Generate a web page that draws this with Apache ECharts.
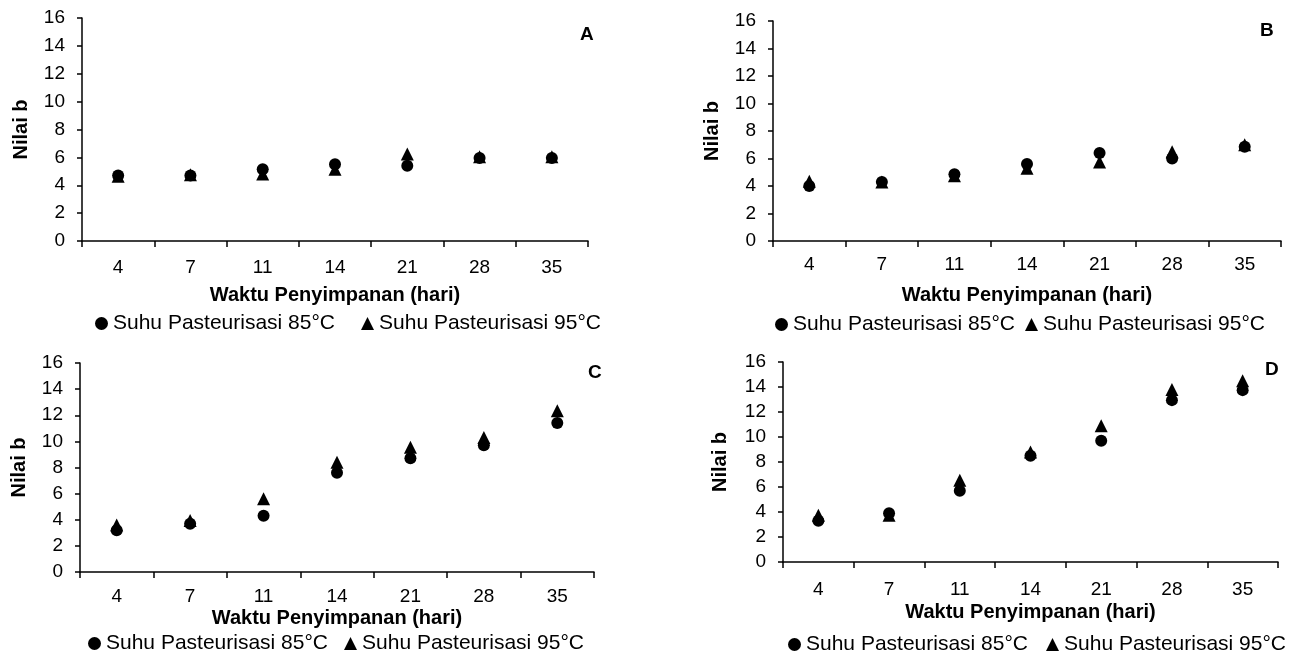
<!DOCTYPE html>
<html>
<head>
<meta charset="utf-8">
<script src="https://cdn.jsdelivr.net/npm/echarts@6/dist/echarts.min.js"></script>
<style>
  html, body { margin: 0; padding: 0; background: #fff; }
  #main { width: 1300px; height: 655px; }
</style>
</head>
<body>
<div id="main"></div>
<script>
// hari penyimpanan
const days = ["4", "7", "11", "14", "21", "28", "35"];
const yTicks = [0, 2, 4, 6, 8, 10, 12, 14, 16];
const seriesNames = ["Suhu Pasteurisasi 85°C", "Suhu Pasteurisasi 95°C"];
const panelLabels = ["A", "B", "C", "D"];

// nilai b per panel
const a85 = [4.7, 4.7, 5.15, 5.5, 5.4, 5.95, 5.95];
const a95 = [4.65, 4.75, 4.8, 5.15, 6.25, 6.05, 6.05];
const b85 = [4.0, 4.3, 4.85, 5.6, 6.4, 6.0, 6.85];
const b95 = [4.35, 4.3, 4.75, 5.3, 5.75, 6.5, 7.0];
const c85 = [3.2, 3.7, 4.3, 7.6, 8.7, 9.7, 11.4];
const c95 = [3.6, 3.95, 5.6, 8.4, 9.55, 10.3, 12.35];
const d85 = [3.3, 3.9, 5.7, 8.5, 9.7, 12.95, 13.75];
const d95 = [3.75, 3.75, 6.55, 8.8, 10.9, 13.8, 14.5];

const panelData = [[a85, a95], [b85, b95], [c85, c95], [d85, d95]];

const FONT = "Liberation Sans, Arial, sans-serif";

// posisi grid tiap panel (px)
const grids = [
  { left: 82, top: 18, width: 506, height: 223 },
  { left: 773, top: 21, width: 508, height: 220 },
  { left: 80, top: 363, width: 514, height: 209 },
  { left: 783, top: 362, width: 495, height: 200 }
];
const labelPos = [
  { left: 580, top: 25 },
  { left: 1260, top: 21 },
  { left: 588, top: 363 },
  { left: 1265, top: 360 }
];
const legendPos = [
  { left: 95, top: 313, gap: 26 },
  { left: 775, top: 314, gap: 10 },
  { left: 88, top: 633, gap: 16 },
  { left: 788, top: 634, gap: 18 }
];
const xNameGap = [44, 44, 36, 40];
const yNameGap = [51, 51, 51, 53];
const xLabelMargin = [17, 14, 15, 18];

const option = {
  animation: false,
  backgroundColor: "#fff",
  textStyle: { fontFamily: FONT, color: "#000" },
  title: panelLabels.map(function(t, i) {
    return {
      text: t,
      left: labelPos[i].left,
      top: labelPos[i].top,
      padding: 0,
      textStyle: { fontFamily: FONT, fontSize: 19, fontWeight: "bold", color: "#000" }
    };
  }),
  legend: legendPos.map(function(p) {
    return {
      left: p.left,
      top: p.top,
      padding: 0,
      data: seriesNames,
      itemWidth: 13,
      itemHeight: 13,
      itemGap: p.gap,
      selectedMode: false,
      textStyle: { fontFamily: FONT, fontSize: 21, color: "#000" }
    };
  }),
  grid: grids,
  xAxis: grids.map(function(g, i) {
    return {
      type: "category",
      gridIndex: i,
      data: days,
      boundaryGap: true,
      name: "Waktu Penyimpanan (hari)",
      nameLocation: "middle",
      nameGap: xNameGap[i],
      nameTextStyle: { fontFamily: FONT, fontSize: 20, fontWeight: "bold", color: "#000" },
      axisLine: { lineStyle: { color: "#000", width: 1.5 } },
      axisTick: { show: true, length: 6, lineStyle: { color: "#000", width: 1.5 } },
      axisLabel: { color: "#000", fontSize: 19, fontFamily: FONT, margin: xLabelMargin[i] },
      splitLine: { show: false }
    };
  }),
  yAxis: grids.map(function(g, i) {
    return {
      type: "value",
      gridIndex: i,
      min: yTicks[0],
      max: yTicks[yTicks.length - 1],
      interval: 2,
      name: "Nilai b",
      nameLocation: "middle",
      nameRotate: 90,
      nameGap: yNameGap[i],
      nameTextStyle: { fontFamily: FONT, fontSize: 20, fontWeight: "bold", color: "#000" },
      axisLine: { show: true, lineStyle: { color: "#000", width: 1.5 } },
      axisTick: { show: true, length: 5, lineStyle: { color: "#000", width: 1.5 } },
      axisLabel: { color: "#000", fontSize: 19, fontFamily: FONT, margin: 17 },
      splitLine: { show: false }
    };
  }),
  series: []
};

panelData.forEach(function(pair, i) {
  option.series.push({
    name: seriesNames[0],
    type: "scatter",
    xAxisIndex: i,
    yAxisIndex: i,
    symbol: "circle",
    symbolSize: 12,
    itemStyle: { color: "#000", opacity: 1 },
    data: pair[0]
  });
  option.series.push({
    name: seriesNames[1],
    type: "scatter",
    xAxisIndex: i,
    yAxisIndex: i,
    symbol: "triangle",
    symbolSize: 13,
    itemStyle: { color: "#000", opacity: 1 },
    data: pair[1]
  });
});

const chart = echarts.init(document.getElementById("main"));
chart.setOption(option);
</script>
</body>
</html>
